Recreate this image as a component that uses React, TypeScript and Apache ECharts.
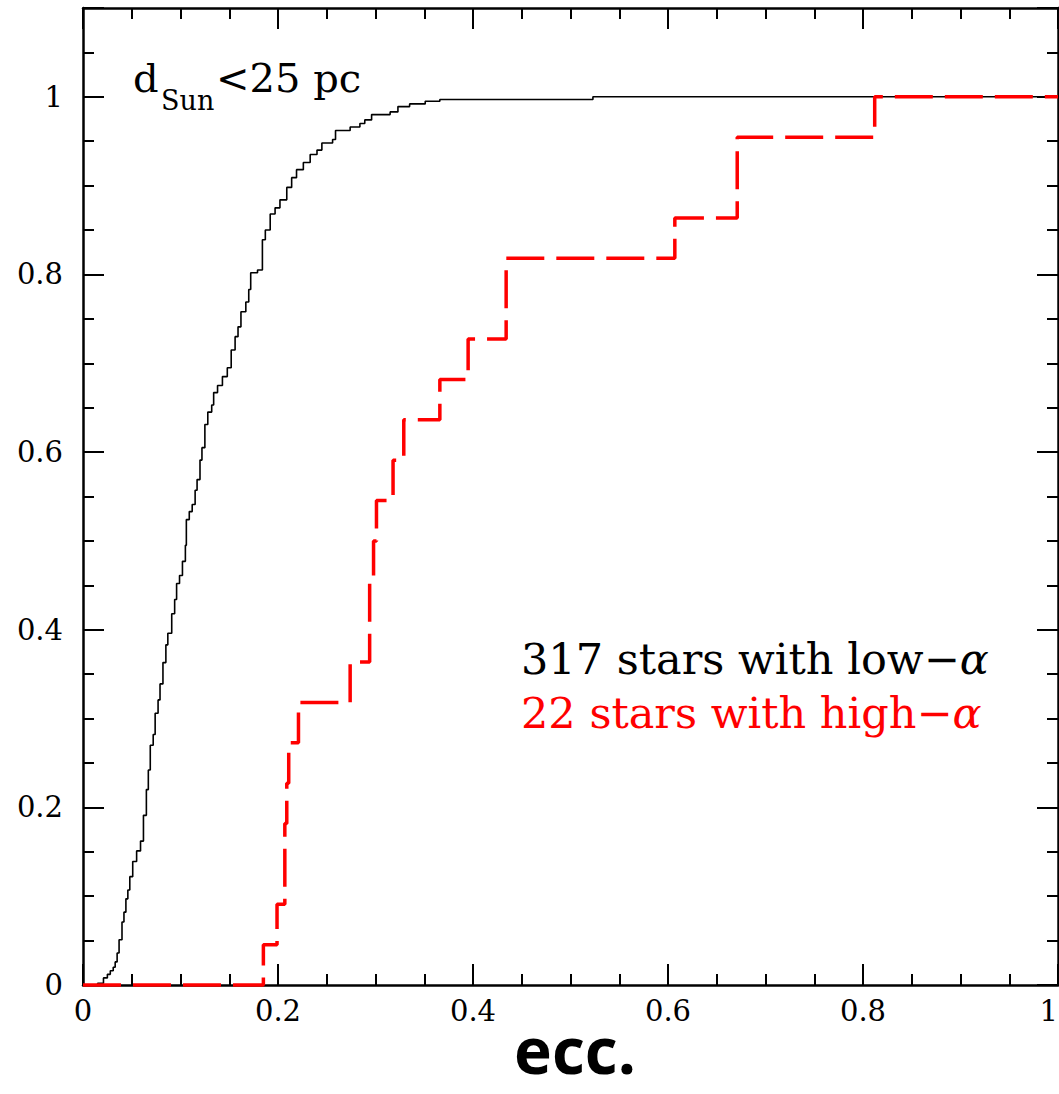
import * as echarts from "echarts";
import React, { useEffect, useRef } from 'react';

// cumulative distribution of eccentricity, 317 low-alpha stars
const lowEcc = [
    0.000, 0.015, 0.021, 0.025, 0.028, 0.031, 0.033, 0.035, 0.037, 0.040,
    0.042, 0.044, 0.046, 0.048, 0.051, 0.055, 0.059, 0.062, 0.065, 0.067,
    0.069, 0.072, 0.074, 0.077, 0.079, 0.082, 0.085, 0.087, 0.091, 0.094,
    0.096, 0.099, 0.102, 0.105, 0.106, 0.109, 0.112, 0.115, 0.117, 0.120,
    0.122, 0.125, 0.128, 0.132, 0.134, 0.138, 0.143, 0.148, 0.152, 0.156,
    0.159, 0.162, 0.167, 0.170, 0.172, 0.179, 0.184, 0.187, 0.192, 0.197,
    0.202, 0.209, 0.214, 0.219, 0.226, 0.233, 0.240, 0.245, 0.256, 0.259,
    0.274, 0.284, 0.289, 0.296, 0.315, 0.323, 0.335, 0.351, 0.366, 0.523,
    1.000
];
const lowFrac = [
    0.000, 0.002, 0.008, 0.012, 0.016, 0.020, 0.026, 0.036, 0.051, 0.071,
    0.082, 0.097, 0.107, 0.122, 0.139, 0.151, 0.162, 0.191, 0.220, 0.242,
    0.270, 0.282, 0.306, 0.321, 0.339, 0.363, 0.383, 0.396, 0.418, 0.434,
    0.452, 0.461, 0.477, 0.495, 0.524, 0.533, 0.541, 0.557, 0.569, 0.591,
    0.605, 0.631, 0.645, 0.653, 0.667, 0.675, 0.685, 0.695, 0.715, 0.730,
    0.741, 0.758, 0.769, 0.783, 0.802, 0.805, 0.839, 0.850, 0.868, 0.875,
    0.884, 0.898, 0.909, 0.918, 0.926, 0.935, 0.940, 0.948, 0.952, 0.962,
    0.966, 0.970, 0.974, 0.980, 0.983, 0.989, 0.992, 0.995, 0.997, 1.000,
    1.000
];

// 22 high-alpha stars: eccentricity where the count steps up, and the count reached
const highTotal = 22;
const highEcc = [
    0.000, 0.185, 0.199, 0.207, 0.209, 0.211, 0.221, 0.274, 0.294, 0.298,
    0.301, 0.318, 0.329, 0.366, 0.395, 0.434, 0.607, 0.671, 0.812, 1.000
];
const highCount = [
    0, 1, 2, 4, 5, 6, 7, 8, 10, 11,
    12, 13, 14, 15, 16, 18, 19, 21, 22, 22
];

const xTicks = [0, 0.2, 0.4, 0.6, 0.8, 1];
const yTicks = [0, 0.2, 0.4, 0.6, 0.8, 1];

const serif = '"DejaVu Serif", serif';

const tickLabel = (ticks: number[]) => (v: number) => {
    const r = +v.toFixed(2);
    return ticks.includes(r) ? String(r) : '';
};

// one axis per side of the frame, ticks pointing inwards
const frameAxis = (position: string, max: number, ticks: number[], labels: boolean, margin: number) => ({
    type: 'value', position, min: 0, max, interval: 0.2,
    axisLine: { show: true, onZero: false, lineStyle: { color: '#000', width: 2.5 } },
    axisTick: { show: true, inside: true, length: 21, lineStyle: { color: '#000', width: 2 } },
    minorTick: { show: true, splitNumber: 4, length: 11, lineStyle: { color: '#000', width: 2 } },
    axisLabel: {
        show: labels, margin, color: '#000', fontFamily: serif, fontSize: 29,
        alignMaxLabel: position === 'bottom' ? 'right' : undefined,
        formatter: tickLabel(ticks)
    },
    splitLine: { show: false },
    minorSplitLine: { show: false }
});

const App: React.FC = () => {
    const chartRef = useRef<HTMLDivElement>(null);

    useEffect(() => {
        if (!chartRef.current) return;
        const chart = echarts.init(chartRef.current, null, { renderer: 'svg' });

        const option = {
            animation: false,
            backgroundColor: '#fff',
            grid: { left: 83, right: 1, top: 8, bottom: 109, containLabel: false, outerBoundsMode: 'none' },
            xAxis: [
                frameAxis('bottom', 1, xTicks, true, 11),
                frameAxis('top', 1, xTicks, false, 11)
            ],
            yAxis: [
                frameAxis('left', 1.1, yTicks, true, 20),
                frameAxis('right', 1.1, yTicks, false, 20)
            ],
            series: [
                {
                    type: 'line', name: 'low', step: 'end', showSymbol: false, clip: false,
                    xAxisIndex: 0, yAxisIndex: 0,
                    lineStyle: { color: '#000', width: 1.6 },
                    data: lowEcc.map((e, i) => [e, lowFrac[i]])
                },
                {
                    type: 'line', name: 'high', step: 'end', showSymbol: false, clip: false,
                    xAxisIndex: 0, yAxisIndex: 0,
                    lineStyle: { color: '#ff0000', width: 3.5, type: [38, 12], cap: 'butt' },
                    data: highEcc.map((e, i) => [e, highCount[i] / highTotal])
                }
            ],
            graphic: [
                { type: 'text', x: 133, y: 98, style: { text: 'd', fill: '#000', font: `40px ${serif}`, verticalAlign: 'bottom' } },
                { type: 'text', x: 161, y: 114, style: { text: 'Sun', fill: '#000', font: `27px ${serif}`, verticalAlign: 'bottom' } },
                { type: 'text', x: 216, y: 98, style: { text: '<25 pc', fill: '#000', font: `40px ${serif}`, verticalAlign: 'bottom' } },
                {
                    type: 'text', x: 521, y: 659,
                    style: {
                        text: '{n|317 stars with low\u2212}{i|\u03b1}', verticalAlign: 'middle',
                        rich: {
                            n: { fill: '#000', fontFamily: serif, fontSize: 43 },
                            i: { fill: '#000', fontFamily: serif, fontSize: 43, fontStyle: 'italic' }
                        }
                    }
                },
                {
                    type: 'text', x: 521, y: 713,
                    style: {
                        text: '{n|22 stars with high\u2212}{i|\u03b1}', verticalAlign: 'middle',
                        rich: {
                            n: { fill: '#ff0000', fontFamily: serif, fontSize: 43 },
                            i: { fill: '#ff0000', fontFamily: serif, fontSize: 43, fontStyle: 'italic' }
                        }
                    }
                },
                {
                    type: 'text', x: 575, y: 1049,
                    style: {
                        text: 'ecc.', fill: '#000', font: 'bold 64px "Open Sans", sans-serif',
                        align: 'center', verticalAlign: 'middle'
                    }
                }
            ]
        };

        chart.setOption(option);
        return () => chart.dispose();
    }, []);

    return (
        <div ref={chartRef} style={{ position: 'fixed', left: 0, top: 0, width: 1059, height: 1094 }} />
    );
};

export default App;
